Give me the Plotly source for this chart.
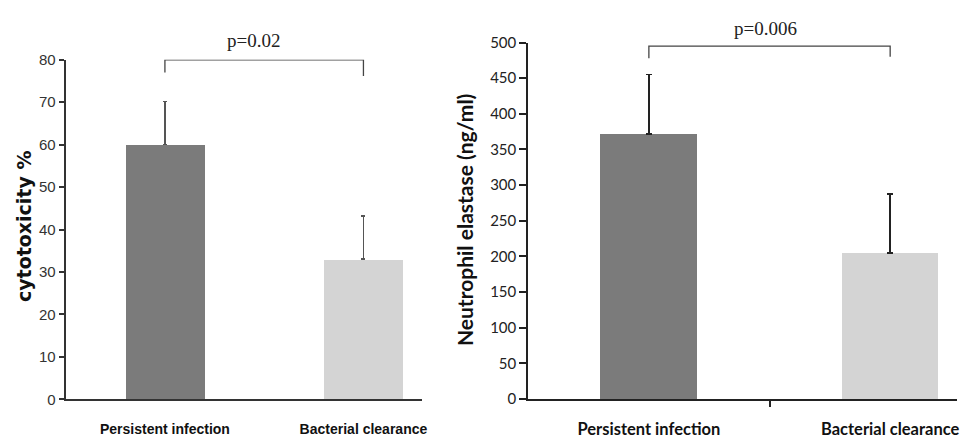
import plotly.graph_objects as go

categories = ["Persistent infection", "Bacterial clearance"]
cyto_values = [60.0, 33.0]
cyto_err = [10.2, 10.2]
elastase_values = [372.0, 205.0]
elastase_err = [83.0, 83.0]
bar_colors = ["#7b7b7b", "#d4d4d4"]
cyto_p = "p=0.02"
elastase_p = "p=0.006"
cyto_bracket = [77.0, 80.0, 80.0, 76.2]
elastase_bracket = [478.0, 495.0, 495.0, 480.0]

W, H = 962, 439
xpos = list(range(len(categories)))
bold_labels = [f"<b>{c}</b>" for c in categories]

fig = go.Figure()

fig.add_trace(go.Bar(
    x=xpos, y=cyto_values, width=0.4, marker=dict(color=bar_colors, line=dict(width=0)),
    error_y=dict(type="data", symmetric=False, array=cyto_err, arrayminus=[0, 0],
                 color="#555555", thickness=1.6, width=2),
    xaxis="x", yaxis="y", showlegend=False))
fig.add_trace(go.Scatter(
    x=[xpos[0], xpos[0], xpos[1], xpos[1]], y=cyto_bracket, mode="lines",
    line=dict(color="#444444", width=1.3), xaxis="x", yaxis="y", showlegend=False,
    cliponaxis=False))

fig.add_trace(go.Bar(
    x=xpos, y=elastase_values, width=0.4, marker=dict(color=bar_colors, line=dict(width=0)),
    error_y=dict(type="data", symmetric=False, array=elastase_err, arrayminus=[0, 0],
                 color="#222222", thickness=1.6, width=3),
    xaxis="x2", yaxis="y2", showlegend=False))
fig.add_trace(go.Scatter(
    x=[xpos[0], xpos[0], xpos[1], xpos[1]], y=elastase_bracket, mode="lines",
    line=dict(color="#444444", width=1.3), xaxis="x2", yaxis="y2", showlegend=False,
    cliponaxis=False))

left_font = "Liberation Sans, sans-serif"
right_font = "Lato, Open Sans, sans-serif"

fig.update_layout(
    width=W, height=H,
    margin=dict(l=0, r=0, t=0, b=0),
    paper_bgcolor="white", plot_bgcolor="white",
    bargap=0,
    xaxis=dict(domain=[66 / W, 424 / W], range=[-0.5, 1.294], tickvals=xpos, ticktext=bold_labels,
               showline=True, linecolor="#333333", linewidth=2, ticks="", showgrid=False,
               zeroline=False, tickfont=dict(family=left_font, size=14, color="#111111"),
               ticklabelstandoff=16, anchor="y"),
    yaxis=dict(domain=[1 - 407 / H, 1 - 52 / H], range=[0, 80], dtick=10,
               showline=True, linecolor="#333333", linewidth=2, ticks="outside", ticklen=5,
               tickwidth=1.5, tickcolor="#333333", showgrid=False, zeroline=False,
               tickfont=dict(family=left_font, size=15, color="#333333"), anchor="x"),
    xaxis2=dict(domain=[531 / W, 1.0], range=[-0.5, 1.277], tickvals=xpos, ticktext=bold_labels,
                showline=True, linecolor="#222222", linewidth=2, ticks="", showgrid=False,
                zeroline=False, tickfont=dict(family=right_font, size=16.5, color="#111111"),
                ticklabeloverflow="allow",
                minor=dict(tickvals=[0.5], ticks="outside", ticklen=6, tickwidth=1.5,
                           tickcolor="#222222"),
                ticklabelstandoff=14, anchor="y2"),
    yaxis2=dict(domain=[1 - 406.7 / H, 1 - 34 / H], range=[0, 500], dtick=50,
                showline=True, linecolor="#222222", linewidth=2, ticks="outside", ticklen=7,
                tickwidth=1.5, tickcolor="#222222", showgrid=False, zeroline=False,
                tickfont=dict(family=right_font, size=15, color="#222222"), anchor="x2"),
    annotations=[
        dict(text="<b>cytotoxicity %</b>", x=24 / W, y=1 - 226 / H, xref="paper", yref="paper",
             textangle=-90, showarrow=False, font=dict(family="DejaVu Sans", size=19, color="#111111"),
             xanchor="center", yanchor="middle"),
        dict(text="<b>Neutrophil elastase (ng/ml)</b>", x=467 / W, y=1 - 220 / H, xref="paper",
             yref="paper", textangle=-90, showarrow=False,
             font=dict(family=right_font, size=21, color="#111111"),
             xanchor="center", yanchor="middle"),
        dict(text=cyto_p, x=255 / W, y=1 - 32 / H, xref="paper", yref="paper", showarrow=False,
             font=dict(family="Liberation Serif, serif", size=19, color="#222222"),
             xanchor="center", yanchor="middle"),
        dict(text=elastase_p, x=770 / W, y=1 - 19 / H, xref="paper", yref="paper", showarrow=False,
             font=dict(family="Liberation Serif, serif", size=19, color="#222222"),
             xanchor="center", yanchor="middle"),
    ],
)

fig.write_html("out.html")
